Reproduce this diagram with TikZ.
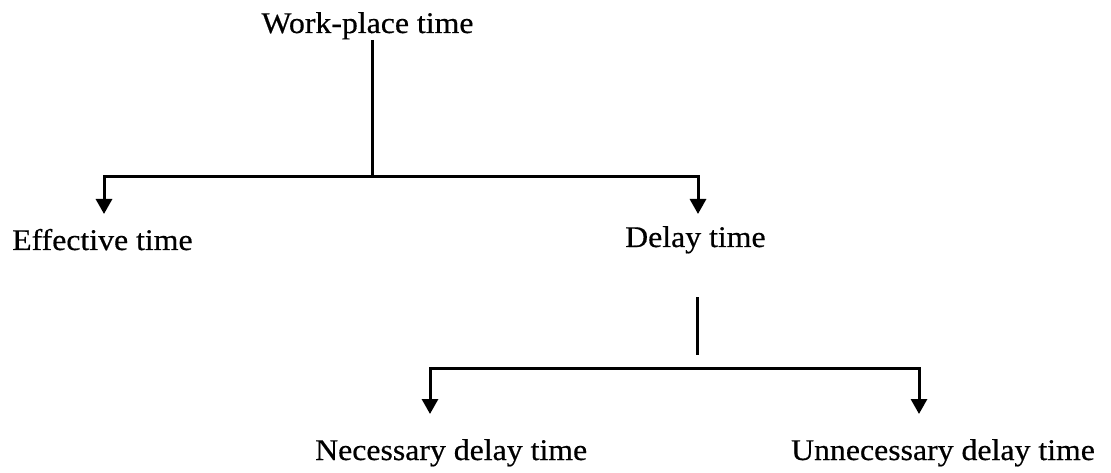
\documentclass[tikz,border=0pt]{standalone}
\usepackage{fontspec}
\setmainfont[FakeStretch=1.06,FakeBold=0.5]{Liberation Serif}
\usetikzlibrary{arrows.meta}
\begin{document}
\begin{tikzpicture}[x=1pt,y=-1pt,
  label/.style={inner sep=0pt,font=\fontsize{30}{34}\selectfont},
  wire/.style={line width=3pt},
  arrowwire/.style={wire,-{Triangle[width=16pt,length=15pt]}}]
\useasboundingbox (0,0) rectangle (1111,473);

% labels
\node[label,anchor=base] (wp) at (367.5,33) {Work-place time};
\node[label,anchor=base west] (eff) at (12,250) {Effective time};
\node[label,anchor=base west] (del) at (625,247) {Delay time};
\node[label,anchor=base west] (nec) at (315,460) {Necessary delay time};
\node[label,anchor=base] (unn) at (943,460) {Unnecessary delay time};

% junction points and arrow tips
\coordinate (wpfoot) at (372,40);
\coordinate (j1) at (372,177);
\coordinate (effin) at (104,214);
\coordinate (delin) at (698,214);
\coordinate (stubtop) at (697,297);
\coordinate (stubbot) at (697,355);
\coordinate (j2) at (697,368);
\coordinate (necin) at (430,414);
\coordinate (unnin) at (919,414);

% first split
\draw[wire] (wpfoot) -- (j1);
\draw[arrowwire] (j1) -| (effin);
\draw[arrowwire] (j1) -| (delin);

% second split
\draw[wire] (stubtop) -- (stubbot);
\draw[arrowwire] (j2) -| (necin);
\draw[arrowwire] (j2) -| (unnin);
\end{tikzpicture}
\end{document}
